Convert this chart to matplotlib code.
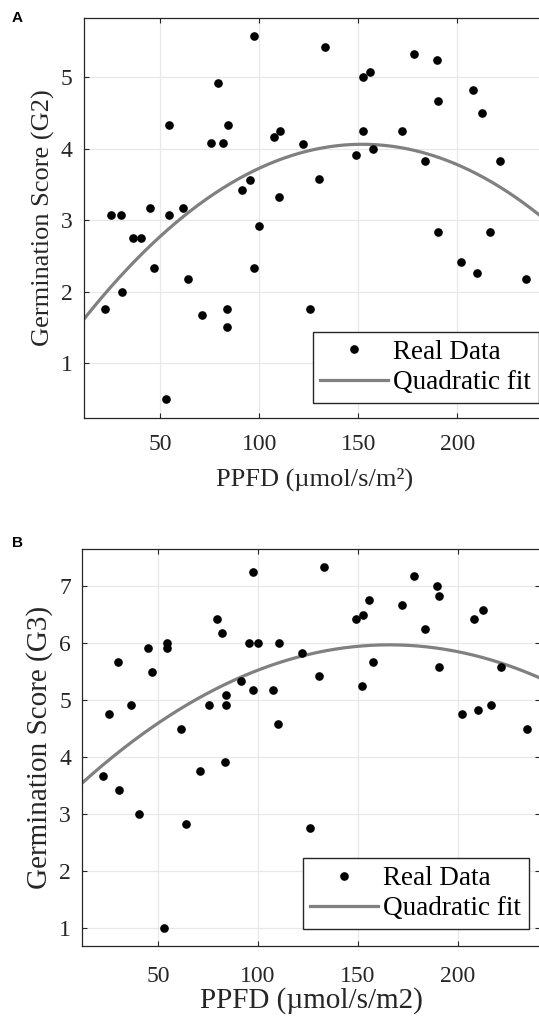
import numpy as np
import matplotlib
matplotlib.use("Agg")
import matplotlib.pyplot as plt

# PPFD (umol/s/m2) for each sample, shared by both panels
ppfd = [22.3, 25.5, 30.2, 30.6, 36.5, 40.3, 44.9, 47.1, 53.1, 54.4,
        54.5, 61.7, 64.2, 71.1, 75.5, 79.3, 82.0, 83.7, 84.0, 84.2,
        91.4, 95.4, 97.4, 97.6, 100.0, 107.6, 110.2, 110.7, 122.2, 125.8,
        130.4, 133.1, 148.9, 152.2, 152.4, 155.7, 157.4, 172.2, 178.0, 183.5,
        189.6, 190.3, 190.4, 202.0, 207.8, 210.0, 212.5, 216.3, 221.3, 234.5]

g2 = [1.75, 3.08, 3.08, 2.00, 2.75, 2.75, 3.17, 2.33, 0.50, 4.33,
      3.08, 3.17, 2.17, 1.67, 4.08, 4.92, 4.08, 1.50, 1.75, 4.33,
      3.42, 3.57, 5.58, 2.33, 2.92, 4.17, 3.33, 4.25, 4.07, 1.75,
      3.58, 5.42, 3.92, 4.25, 5.00, 5.08, 4.00, 4.25, 5.33, 3.83,
      5.25, 4.67, 2.83, 2.42, 4.83, 2.26, 4.50, 2.83, 3.83, 2.17]

g3 = [3.67, 4.75, 5.67, 3.42, 4.92, 3.00, 5.92, 5.50, 1.00, 6.00,
      5.92, 4.50, 2.83, 3.75, 4.92, 6.42, 6.17, 3.92, 4.92, 5.08,
      5.33, 6.00, 7.25, 5.17, 6.00, 5.17, 4.58, 6.00, 5.83, 2.75,
      5.42, 7.33, 6.42, 5.25, 6.50, 6.75, 5.67, 6.67, 7.17, 6.25,
      7.00, 6.83, 5.58, 4.75, 6.42, 4.83, 6.58, 4.92, 5.58, 4.50]

xticks = [50, 100, 150, 200]

plt.rcParams['font.family'] = ['Liberation Serif', 'DejaVu Serif']

W, H = 539, 1018
fig = plt.figure(figsize=(W / 100, H / 100), dpi=100)


def px_box(l, t, r, b):
    return [l / W, 1 - b / H, (r - l) / W, (b - t) / H]


def panel(ax, y, ylabel, xlabel, xlim, ylim, yticks, lab_size, xpad, xlabelpad):
    x = np.array(ppfd)
    y = np.array(y)
    coef = np.polyfit(x, y, 2)
    xs = np.linspace(xlim[0], xlim[1], 300)
    ax.plot(xs, np.polyval(coef, xs), color='#808080', lw=2.3, zorder=2,
            label='Quadratic fit')
    ax.plot(x, y, 'o', color='black', ms=5.2, zorder=3, label='Real Data')
    ax.set_xlim(*xlim)
    ax.set_ylim(*ylim)
    ax.set_xticks(xticks)
    ax.set_yticks(yticks)
    ax.grid(True, color='#e8e8e8', lw=0.9)
    ax.set_axisbelow(True)
    for s in ax.spines.values():
        s.set_color('#262626')
        s.set_linewidth(0.9)
    ax.tick_params(direction='in', length=3.5, width=0.8, colors='#262626',
                   labelsize=17, top=True, right=True)
    ax.tick_params(axis='x', pad=xpad)
    ax.tick_params(axis='y', pad=8)
    ax.set_ylabel(ylabel, fontsize=lab_size, color='#262626', labelpad=4)
    ax.set_xlabel(xlabel, fontsize=lab_size, color='#262626', labelpad=xlabelpad)
    h, l = ax.get_legend_handles_labels()
    return h[::-1], l[::-1]


leg_kw = dict(loc='lower left', bbox_transform=fig.transFigure, fontsize=19.5,
              frameon=True, fancybox=False, framealpha=1, edgecolor='#262626',
              handlelength=2.5, handletextpad=0.2, borderpad=0.28,
              labelspacing=0.2, borderaxespad=0)

# panel A
axA = fig.add_axes(px_box(83.5, 17.5, 545, 417.7))
hA, lA = panel(axA, g2, 'Germination Score (G2)', 'PPFD (µmol/s/m²)',
               (11.4, 244.2), (0.234, 5.84), [1, 2, 3, 4, 5], 19, 12, 9)
axA.legend(hA, lA, bbox_to_anchor=(312.7 / W, 1 - 402.7 / H), **leg_kw)

# panel B
axB = fig.add_axes(px_box(82, 549, 540, 946.3))
hB, lB = panel(axB, g3, 'Germination Score (G3)', 'PPFD (µmol/s/m2)',
               (12, 241), (0.68, 7.65), [1, 2, 3, 4, 5, 6, 7], 21, 14, 0.5)
axB.legend(hB, lB, bbox_to_anchor=(302.7 / W, 1 - 929 / H), **leg_kw)

fig.text(12 / W, 1 - 22 / H, 'A', family='Liberation Sans', weight='bold', fontsize=11)
fig.text(12 / W, 1 - 547 / H, 'B', family='Liberation Sans', weight='bold', fontsize=11)

fig.savefig('out.png', dpi=100)
